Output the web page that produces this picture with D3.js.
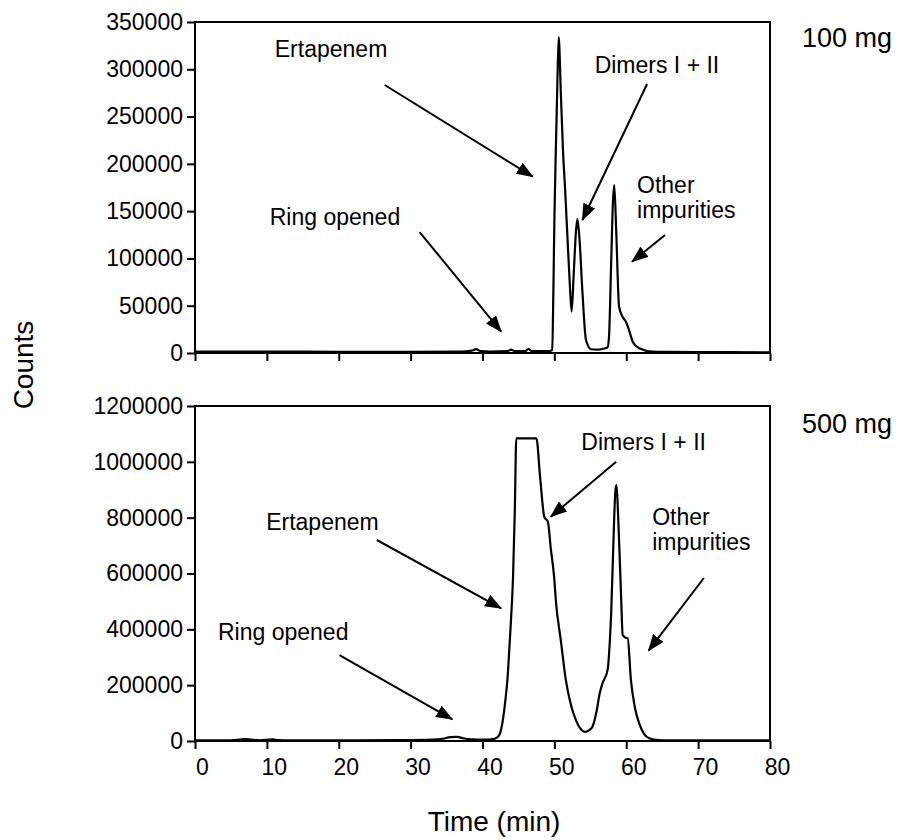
<!DOCTYPE html>
<html>
<head>
<meta charset="utf-8">
<script src="https://cdn.jsdelivr.net/npm/d3@7"></script>
<style>
  html, body { margin: 0; padding: 0; background: #fff; }
  svg text { font-family: "Liberation Sans", Arial, Helvetica, sans-serif; fill: #000; }
</style>
</head>
<body>
<svg id="chart" width="902" height="840"></svg>
<script>
// Retention time axis (minutes)
const timeTicks = [0, 10, 20, 30, 40, 50, 60, 70, 80];
const countTicks100 = [0, 50000, 100000, 150000, 200000, 250000, 300000, 350000];
const countTicks500 = [0, 200000, 400000, 600000, 800000, 1000000, 1200000];

// 100 mg injection trace
const time100 = [0, 5, 10, 20, 30, 37, 38.5, 39.1, 39.7, 41, 43.5, 44, 44.5, 46, 46.4, 46.8, 49.3,
  49.7, 49.85, 50.0, 50.2, 50.4, 50.6, 50.9, 51.2, 51.5, 51.9, 52.2, 52.4, 52.7, 53.0, 53.2,
  53.5, 53.9, 54.4, 55.1, 56.0, 56.8, 57.4, 57.6, 57.9, 58.15, 58.33, 58.6, 59.0, 59.5, 59.95,
  60.4, 60.9, 61.8, 63.6, 66, 70, 80];
const counts100 = [1500, 1500, 1500, 1200, 1200, 1500, 2500, 4000, 2000, 1500, 2000, 3500, 2000, 2000, 4500, 2000, 2000,
  3000, 60000, 140000, 214000, 280000, 334000, 275000, 214000, 172000, 110000, 65000, 44000, 85000, 128000, 141500,
  120000, 65000, 13700, 4000, 3500, 4500, 6000, 17000, 95000, 160000, 177600, 130000, 49000, 38000, 33000,
  24000, 12000, 5000, 1500, 1200, 1000, 800];

// 500 mg injection trace (detector saturates at the Ertapenem peak)
const time500 = [0, 5, 6.2, 7.0, 7.8, 9, 10, 10.8, 11.6, 13, 20, 28, 33, 34.5, 35.5, 36.5, 37.3, 38.5,
  40, 41.5, 42.0, 42.4, 42.8, 43.2, 43.5, 43.75, 44.0, 44.25, 44.5, 44.7, 47.5, 48.0, 48.6, 49.1,
  49.5, 50.0, 50.2, 50.9, 51.6, 52.3, 53.0, 53.6, 54.2, 54.8, 55.3, 55.9, 56.3, 56.7, 57.4, 57.7,
  57.9, 58.2, 58.5, 58.65, 58.85, 59.1, 59.3, 59.5, 59.9, 60.2, 60.65, 61.2, 61.8, 62.5, 63.2,
  64.5, 66, 80];
const counts500 = [2000, 2500, 5000, 7000, 5000, 2500, 4000, 6000, 3000, 2000, 2000, 3000, 5000, 8000, 14000, 15000, 10000, 6000,
  5000, 7000, 12000, 25000, 70000, 150000, 230000, 338000, 450000, 590000, 830000, 1084000, 1084000, 950000, 803000, 785000,
  690000, 577000, 505000, 360000, 218000, 130000, 75000, 45000, 33000, 38000, 51000, 110000, 170000, 207000, 254000, 350000,
  457000, 700000, 900000, 917000, 820000, 650000, 505000, 380000, 370000, 368000, 218000, 120000, 63000, 25000, 10000,
  3000, 2000, 2000];

// Peak annotations: text anchor and arrow tail/tip, in (min, counts)
const labels100 = [
  { lines: ["Ertapenem"], at: [11.1, 313000], tail: [26.4, 283400], tip: [47.0, 186400] },
  { lines: ["Dimers I + II"], at: [55.6, 296000], tail: [62.9, 284400], tip: [53.9, 140600] },
  { lines: ["Other", "impurities"], at: [61.5, 169200], tail: [65.4, 124800], tip: [60.8, 96500] },
  { lines: ["Ring opened"], at: [10.4, 135300], tail: [31.25, 127900], tip: [42.6, 22500] }
];
const labels500 = [
  { lines: ["Ertapenem"], at: [9.9, 755800], tail: [25.3, 720000], tip: [42.6, 475300] },
  { lines: ["Dimers I + II"], at: [53.75, 1042400], tail: [58.6, 1000500], tip: [49.5, 803400] },
  { lines: ["Other", "impurities"], at: [63.6, 773800], tail: [70.8, 583900], tip: [63.1, 323500] },
  { lines: ["Ring opened"], at: [3.2, 361800], tail: [20.1, 308000], tip: [35.8, 77700] }
];

const svg = d3.select("#chart");

svg.append("defs").append("marker")
  .attr("id", "head")
  .attr("markerUnits", "userSpaceOnUse")
  .attr("viewBox", "0 0 17 13")
  .attr("markerWidth", 17).attr("markerHeight", 13)
  .attr("refX", 16).attr("refY", 6.5)
  .attr("orient", "auto")
  .append("path").attr("d", "M0,0 L17,6.5 L0,13 Z").attr("fill", "#000");

const x = d3.scaleLinear().domain([0, 80]).range([195, 770]);

function panel(opts) {
  const y = d3.scaleLinear().domain(opts.domain).range(opts.range);
  const g = svg.append("g");

  // frame
  g.append("rect")
    .attr("x", x.range()[0]).attr("y", y.range()[1])
    .attr("width", x.range()[1] - x.range()[0])
    .attr("height", y.range()[0] - y.range()[1])
    .attr("fill", "none").attr("stroke", "#000").attr("stroke-width", 2);

  const yAxis = g.append("g")
    .attr("transform", `translate(${x.range()[0]},0)`)
    .call(d3.axisLeft(y).tickValues(opts.yTicks).tickSize(8).tickSizeOuter(0)
      .tickPadding(4).tickFormat(d3.format("d")));
  yAxis.select(".domain").remove();
  yAxis.selectAll("line").attr("stroke-width", 2);
  yAxis.selectAll("text").style("font-size", "23px");

  const xAxis = g.append("g")
    .attr("transform", `translate(0,${y.range()[0]})`)
    .call(d3.axisBottom(x).tickValues(timeTicks).tickSize(8).tickSizeOuter(0)
      .tickPadding(10).tickFormat(opts.showX ? d3.format("d") : () => ""));
  xAxis.select(".domain").remove();
  xAxis.selectAll("line").attr("stroke-width", 2);
  xAxis.selectAll("text").style("font-size", "23px").attr("dx", 7);

  // chromatogram trace
  const pts = opts.time.map((t, i) => [t, opts.counts[i]]);
  g.append("path")
    .datum(pts)
    .attr("fill", "none").attr("stroke", "#000").attr("stroke-width", 2.2)
    .attr("stroke-linejoin", "round")
    .attr("d", d3.line().x(d => x(d[0])).y(d => y(d[1])).curve(d3.curveMonotoneX));

  // annotations
  opts.labels.forEach(l => {
    const t = g.append("text")
      .attr("x", x(l.at[0])).attr("y", y(l.at[1]))
      .style("font-size", "23px");
    l.lines.forEach((s, i) => t.append("tspan")
      .attr("x", x(l.at[0])).attr("dy", i === 0 ? 0 : 25).text(s));
    g.append("line")
      .attr("x1", x(l.tail[0])).attr("y1", y(l.tail[1]))
      .attr("x2", x(l.tip[0])).attr("y2", y(l.tip[1]))
      .attr("stroke", "#000").attr("stroke-width", 2)
      .attr("marker-end", "url(#head)");
  });

  g.append("text")
    .attr("x", 802).attr("y", y.range()[1] + opts.tagDy)
    .style("font-size", "27px").text(opts.tag);
}

panel({ domain: [0, 350000], range: [353, 22], yTicks: countTicks100, showX: false,
  time: time100, counts: counts100, labels: labels100, tag: "100 mg", tagDy: 25 });
panel({ domain: [0, 1200000], range: [741, 406], yTicks: countTicks500, showX: true,
  time: time500, counts: counts500, labels: labels500, tag: "500 mg", tagDy: 27 });

svg.append("text")
  .attr("transform", "translate(33,365) rotate(-90)")
  .attr("text-anchor", "middle")
  .style("font-size", "28px").text("Counts");

svg.append("text")
  .attr("x", 494).attr("y", 831)
  .attr("text-anchor", "middle")
  .style("font-size", "28px").text("Time (min)");
</script>
</body>
</html>
